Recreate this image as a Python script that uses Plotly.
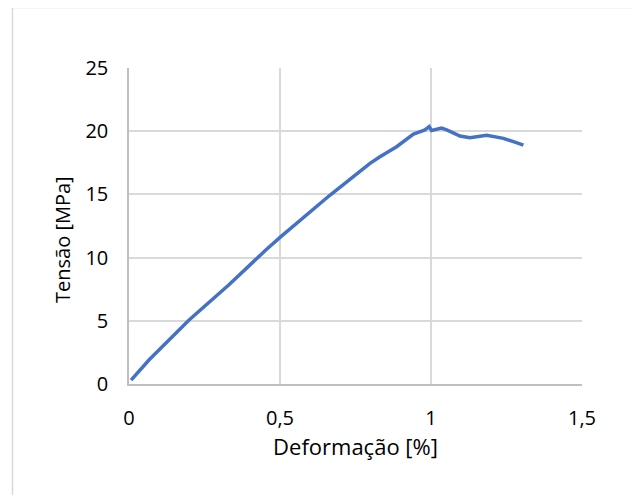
import plotly.graph_objects as go

strain = [0.007, 0.066, 0.199, 0.331, 0.453, 0.5, 0.666, 0.798, 0.831, 0.886, 0.942,
          0.980, 0.994, 1.002, 1.035, 1.052, 1.096, 1.129, 1.184, 1.240, 1.273, 1.306]
stress = [0.3, 1.9, 5.06, 7.85, 10.6, 11.6, 14.95, 17.46, 17.98, 18.77, 19.78,
          20.1, 20.36, 20.05, 20.25, 20.1, 19.62, 19.49, 19.67, 19.43, 19.17, 18.9]

x_title = "Deformação [%]"
y_title = "Tensão [MPa]"

font = "Open Sans, sans-serif"

# body margin offset of 8px in the page
L, T, PW, PH = 121, 60, 453, 316

def px2x(px):
    return (px - (L + 8)) / PW
def py2y(py):
    return ((T + 8 + PH) - py) / PH

fig = go.Figure()
fig.add_trace(go.Scatter(x=strain, y=stress, mode="lines",
                         line=dict(color="#4472C4", width=3.5), showlegend=False))

fig.update_layout(
    width=640, height=495,
    paper_bgcolor="white", plot_bgcolor="white",
    margin=dict(l=L, r=640 - L - PW, t=T, b=495 - T - PH),
    separators=",.",
    font=dict(family=font, size=20, color="#000000"),
    xaxis=dict(range=[0, 1.5], dtick=0.5, tick0=0, showgrid=True, gridcolor="#d9d9d9",
               gridwidth=1.5, showline=True, linecolor="#bfbfbf", linewidth=1.5,
               zeroline=False, ticks="outside", ticklen=15, tickcolor="rgba(0,0,0,0)",
               title=dict(text=x_title, standoff=10, font=dict(size=22)), tickfont=dict(size=20)),
    yaxis=dict(range=[0, 25], dtick=5, tick0=0, showgrid=True, gridcolor="#d9d9d9",
               gridwidth=1.5, showline=True, linecolor="#bfbfbf", linewidth=1.5,
               zeroline=False, ticks="outside", ticklen=15, tickcolor="rgba(0,0,0,0)",
               tickfont=dict(size=20)),
)

fig.add_annotation(text=y_title, xref="paper", yref="paper", x=px2x(62), y=py2y(240),
                   textangle=-90, showarrow=False, xanchor="center", yanchor="middle",
                   font=dict(size=20, family=font, color="#000000"))

# outer chart border (left, top, right), in screen pixels
border = dict(color="#d9d9d9", width=1.5)
fig.add_shape(type="line", xref="paper", yref="paper", x0=px2x(12.5), x1=px2x(12.5),
              y0=py2y(7.5), y1=py2y(520), line=border)
fig.add_shape(type="line", xref="paper", yref="paper", x0=px2x(12.5), x1=px2x(637.5),
              y0=py2y(7.5), y1=py2y(7.5), line=border)
fig.add_shape(type="line", xref="paper", yref="paper", x0=px2x(637.5), x1=px2x(637.5),
              y0=py2y(7.5), y1=py2y(520), line=border)

fig.write_html("out.html")
